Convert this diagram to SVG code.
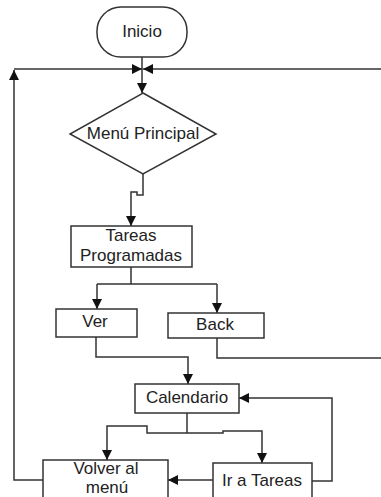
<svg xmlns="http://www.w3.org/2000/svg" width="381" height="497" viewBox="0 0 381 497">
<defs>
<marker id="ah" markerUnits="userSpaceOnUse" markerWidth="12" markerHeight="10" refX="10" refY="5" orient="auto">
<path d="M0,0 L10,5 L0,10 Z" fill="#111"/>
</marker>
<style>
.shape{fill:#fff;stroke:#333;stroke-width:1.5}
.conn{fill:none;stroke:#333;stroke-width:1.5}
.arr{marker-end:url(#ah)}
text{font-family:"Liberation Sans",Arial,sans-serif;font-size:17px;fill:#222;text-anchor:middle}
</style>
</defs>
<rect width="381" height="497" fill="#fff"/>
<g id="connectors">
<path class="conn arr" d="M142,57 V93"/>
<path class="conn arr" d="M43,480 H14 V70"/>
<path class="conn arr" d="M14,69 H142"/>
<path class="conn arr" d="M381,69 H143"/>
<path class="conn" d="M217,338 V358 H381"/>
<path class="conn arr" d="M143,174 V195 H137 V192 H131 V226"/>
<path class="conn" d="M131,267 V284 M97,284 H217"/>
<path class="conn arr" d="M97,284 V309"/>
<path class="conn arr" d="M217,284 V313"/>
<path class="conn arr" d="M96,337 V357 H188 V384"/>
<path class="conn" d="M187,413 V433"/>
<path class="conn arr" d="M187,433 H147 V426 H107 V460"/>
<path class="conn arr" d="M187,433 H223 V431 H262 V463"/>
<path class="conn arr" d="M213,480 H168"/>
<path class="conn arr" d="M312,481 H332 V398 H239"/>
</g>
<g id="inicio">
<rect class="shape" x="97" y="7" width="90" height="50" rx="24" ry="24"/>
<text x="142" y="37">Inicio</text>
</g>
<g id="menu-principal">
<polygon class="shape" points="143,93 216,134 143,174 70,134"/>
<text x="143" y="139">Menú Principal</text>
</g>
<g id="tareas-programadas">
<rect class="shape" x="71" y="226" width="121" height="41"/>
<text x="131" y="241">Tareas</text>
<text x="131" y="261">Programadas</text>
</g>
<g id="ver">
<rect class="shape" x="56" y="309" width="81" height="28"/>
<text x="95" y="327">Ver</text>
</g>
<g id="back">
<rect class="shape" x="168" y="313" width="96" height="25"/>
<text x="215" y="330">Back</text>
</g>
<g id="calendario">
<rect class="shape" x="135" y="384" width="104" height="29"/>
<text x="187" y="403">Calendario</text>
</g>
<g id="volver">
<rect class="shape" x="43" y="460" width="125" height="50"/>
<text x="106" y="474">Volver al</text>
<text x="107" y="493">menú</text>
</g>
<g id="ir-a-tareas">
<rect class="shape" x="213" y="463" width="99" height="50"/>
<text x="262" y="486">Ir a Tareas</text>
</g>
</svg>
